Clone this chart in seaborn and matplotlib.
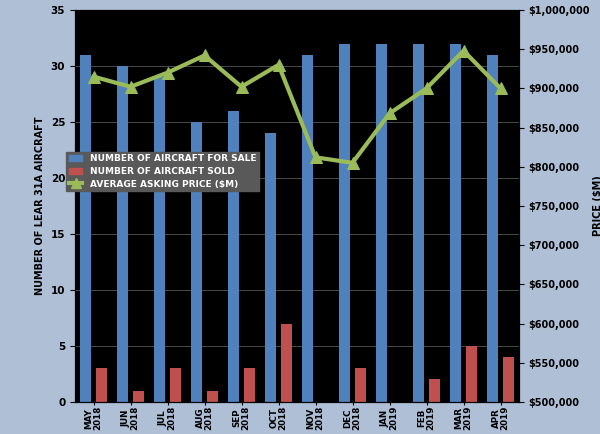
import matplotlib
matplotlib.use("Agg")
import matplotlib.pyplot as plt
import seaborn as sns
import numpy as np
import pandas as pd
from matplotlib.lines import Line2D
from matplotlib.patches import Patch

months = ["MAY\n2018","JUN\n2018","JUL\n2018","AUG\n2018","SEP\n2018","OCT\n2018","NOV\n2018","DEC\n2018","JAN\n2019","FEB\n2019","MAR\n2019","APR\n2019"]
for_sale = [31,30,29,25,26,24,31,32,32,32,32,31]
sold = [3,1,3,1,3,7,0,3,0,2,5,4]
price = [915000,902000,920000,942000,902000,930000,812000,805000,868000,900000,948000,900000]

df = pd.DataFrame({"month": months*2,
                   "value": for_sale+sold,
                   "series": ["NUMBER OF AIRCRAFT FOR SALE"]*12+["NUMBER OF AIRCRAFT SOLD"]*12})

fig = plt.figure(figsize=(6,4.34), dpi=100)
fig.patch.set_facecolor("#aebfd6")
ax = fig.add_axes([0.125,0.074,0.74,0.903])
ax.set_facecolor("black")
sns.barplot(data=df, x="month", y="value", hue="series", palette=["#4f81bd","#c0504d"],
            width=0.85, gap=0.3, ax=ax, legend=False, saturation=1)
ax.set_ylim(0,35)
ax.set_yticks(range(0,36,5))
ax.yaxis.grid(True, color="#555555", lw=0.6)
ax.set_axisbelow(True)
ax.set_xlabel("")
ax.set_ylabel("NUMBER OF LEAR 31A AIRCRAFT", fontsize=7, fontweight="bold")
ax.tick_params(axis="x", pad=1, length=2)
for lab in ax.get_xticklabels():
    lab.set_rotation(90); lab.set_fontweight("bold"); lab.set_fontsize(6.3)
    lab.set_linespacing(0.95)
for lab in ax.get_yticklabels():
    lab.set_fontweight("bold"); lab.set_fontsize(7.5)

ax2 = ax.twinx()
sns.lineplot(x=np.arange(12), y=price, ax=ax2, color="#9bbb59", lw=3, marker="^", markersize=8,
             markeredgecolor="#9bbb59")
ax2.set_ylim(500000,1000000)
ax2.set_yticks(range(500000,1000001,50000))
ax2.set_yticklabels([f"${v:,.0f}" for v in range(500000,1000001,50000)], fontsize=7, fontweight="bold")
ax2.set_ylabel("PRICE ($M)", fontsize=7, fontweight="bold", labelpad=2)
ax.set_xlim(-0.5,11.5)

handles = [Patch(color="#4f81bd"), Patch(color="#c0504d"),
           Line2D([0],[0],color="#9bbb59",lw=3,marker="^",markersize=7)]
labels = ["NUMBER OF AIRCRAFT FOR SALE","NUMBER OF AIRCRAFT SOLD","AVERAGE ASKING PRICE ($M)"]
leg = ax2.legend(handles, labels, loc="upper left", bbox_to_anchor=(-0.03,0.65), fontsize=6.5,
                 facecolor="#595959", framealpha=1, edgecolor="#595959", fancybox=False,
                 borderpad=0.3, labelspacing=0.4, handlelength=1.5)
for t in leg.get_texts():
    t.set_color("white"); t.set_fontweight("bold")
fig.savefig("out.png", dpi=100, facecolor=fig.get_facecolor())
